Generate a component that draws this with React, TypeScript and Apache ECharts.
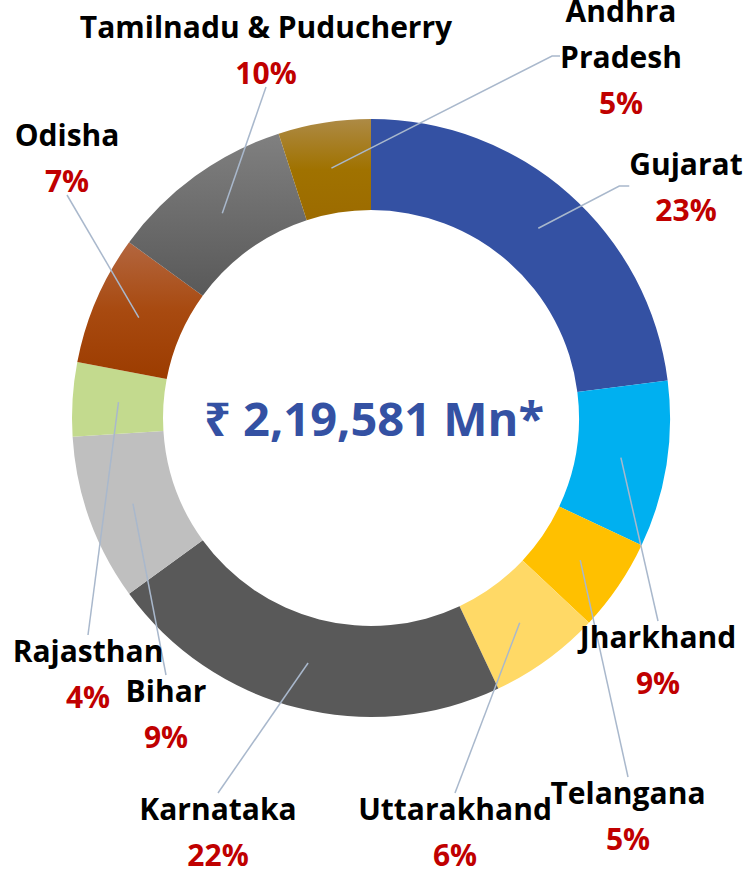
import React, { useEffect, useRef } from "react";
import * as echarts from "echarts";

const states = [
  "Gujarat",
  "Jharkhand",
  "Telangana",
  "Uttarakhand",
  "Karnataka",
  "Bihar",
  "Rajasthan",
  "Odisha",
  "Tamilnadu & Puducherry",
  "Andhra\nPradesh",
];
const shares = [23, 9, 5, 6, 22, 9, 4, 7, 10, 5];
const totalLabel = "₹ 2,19,581 Mn*";

// style / layout (kept separate from data)
const sliceColors: any[] = [
  "#3451A3",
  "#00B0F0",
  "#FFC000",
  "#FFD966",
  "#595959",
  "#BFBFBF",
  "#C3DA8E",
  { type: "linear", x: 0, y: 0, x2: 0, y2: 1, colorStops: [{ offset: 0, color: "#B3663F" }, { offset: 0.5, color: "#A84A10" }, { offset: 1, color: "#9C3C00" }] },
  { type: "linear", x: 0, y: 0, x2: 0, y2: 1, colorStops: [{ offset: 0, color: "#808080" }, { offset: 1, color: "#595959" }] },
  { type: "linear", x: 0, y: 0, x2: 0, y2: 1, colorStops: [{ offset: 0, color: "#AD8A45" }, { offset: 0.5, color: "#A07200" }, { offset: 1, color: "#9C6B00" }] },
];
// label block centres (px) for each slice, in the same order
const labelPos: [number, number][] = [
  [686, 186],
  [658, 659],
  [628, 815],
  [455, 831],
  [218, 831],
  [166, 713],
  [88, 673],
  [67, 157],
  [266, 49],
  [621, 56],
];
const elbow = [10, 0, 0, 0, 0, 0, 0, 0, 0, 8];

const CX = 371;
const CY = 418;
const FONT = "'Open Sans', 'Noto Sans', sans-serif";

export default function App() {
  const ref = useRef<HTMLDivElement>(null);
  useEffect(() => {
    const chart = echarts.init(ref.current!, null, { renderer: "svg" });
    const ringData = states.map((s, i) => ({
      name: s,
      value: shares[i],
      itemStyle: { color: sliceColors[i] },
    }));
    const labelData = states.map((s, i) => ({
      name: s,
      value: shares[i],
      labelLine: { length2: elbow[i] },
    }));
    chart.setOption({
      animation: false,
      backgroundColor: "#ffffff",
      series: [
        {
          type: "pie",
          z: 2,
          center: [CX, CY],
          radius: [208, 299],
          startAngle: 90,
          clockwise: true,
          silent: true,
          label: { show: false },
          labelLine: { show: false },
          data: ringData,
        },
        {
          type: "pie",
          z: 5,
          center: [CX, CY],
          radius: [0, 253],
          startAngle: 90,
          clockwise: true,
          silent: true,
          avoidLabelOverlap: false,
          itemStyle: { color: "rgba(0,0,0,0)" },
          label: {
            show: true,
            position: "outside",
            formatter: (p: any) =>
              String(p.name)
                .split("\n")
                .map((t: string) => `{n|${t}}`)
                .join("\n") + `\n{p|${p.value}%}`,
            rich: {
              n: { fontFamily: FONT, fontWeight: "bold", fontSize: 30, color: "#000000", lineHeight: 46, align: "center" },
              p: { fontFamily: FONT, fontWeight: "bold", fontSize: 30, color: "#C00000", lineHeight: 46, align: "center" },
            },
          },
          labelLine: {
            show: true,
            length: 10,
            length2: 0,
            lineStyle: { color: "#A9B8CC", width: 1.5 },
          },
          labelLayout: (params: any) => ({
            x: labelPos[params.dataIndex][0],
            y: labelPos[params.dataIndex][1],
            align: "center",
            verticalAlign: "middle",
          }),
          data: labelData,
        },
      ],
      graphic: [
        {
          type: "text",
          x: CX + 3,
          y: CY,
          z: 10,
          style: {
            text: totalLabel,
            fill: "#3451A3",
            font: `bold 47px ${FONT}`,
            textAlign: "center",
            textVerticalAlign: "middle",
          },
        },
      ],
    });
    return () => chart.dispose();
  }, []);
  return (
    <div
      ref={ref}
      style={{ position: "fixed", left: 0, top: 0, width: 748, height: 874 }}
    />
  );
}
